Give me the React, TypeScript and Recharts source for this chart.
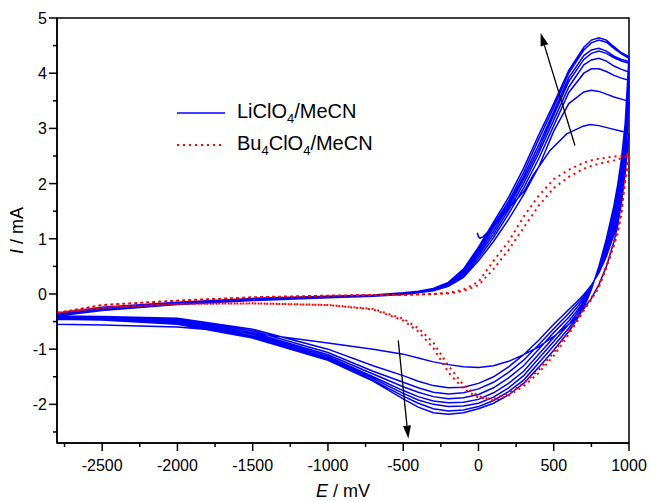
import React from 'react';
import {
  LineChart,
  Line,
  XAxis,
  YAxis,
  ReferenceLine,
  ReferenceArea,
} from 'recharts';

// potential grids (mV) for the forward and reverse sweeps
const upE = [-2800, -2500, -2000, -1500, -1000, -700, -500, -400, -300, -200, -100, 0, 100, 200, 300, 400, 500, 600, 700, 750, 800, 850, 900, 950, 1000];
const downE = [1000, 975, 950, 925, 900, 850, 800, 750, 700, 650, 600, 500, 400, 300, 200, 100, 0, -100, -200, -300, -400, -500, -700, -1000, -1500, -2000, -2500, -2800];

// LiClO4 first scan starts at 0 mV (the little hook)
const liFirstE = [-8, 0, 10, 32, 100, 200, 300, 362, 475, 586, 695, 741, 800, 873, 950, 1000];
const liFirstI = [1.11, 1.04, 1.01, 1.04, 1.22, 1.55, 1.85, 2.15, 2.6, 2.9, 3.04, 3.07, 3.05, 3.0, 2.95, 2.9];
const liFirstDown = [2.9, 2.2, 1.65, 1.25, 0.95, 0.5, 0.17, -0.08, -0.27, -0.42, -0.55, -0.77, -0.96, -1.1, -1.22, -1.3, -1.33, -1.32, -1.28, -1.23, -1.16, -1.09, -1.0, -0.89, -0.71, -0.6, -0.56, -0.55];

// LiClO4 cycles 2..8, forward sweeps (mA)
const liUp = [
  [-0.4, -0.3, -0.19, -0.12, -0.07, -0.04, -0.01, 0.02, 0.06, 0.14, 0.3, 0.6, 0.95, 1.35, 1.8, 2.3, 2.95, 3.45, 3.66, 3.69, 3.67, 3.62, 3.57, 3.53, 3.49],
  [-0.4, -0.29, -0.18, -0.11, -0.06, -0.03, 0, 0.03, 0.07, 0.16, 0.33, 0.65, 1.02, 1.45, 1.92, 2.45, 3.05, 3.65, 4.0, 4.08, 4.08, 4.03, 3.96, 3.91, 3.87],
  [-0.39, -0.28, -0.17, -0.1, -0.06, -0.03, 0, 0.03, 0.08, 0.17, 0.36, 0.7, 1.08, 1.52, 2.0, 2.55, 3.15, 3.75, 4.15, 4.24, 4.27, 4.22, 4.13, 4.07, 4.02],
  [-0.38, -0.27, -0.17, -0.1, -0.05, -0.02, 0.01, 0.04, 0.08, 0.18, 0.38, 0.74, 1.14, 1.58, 2.07, 2.62, 3.24, 3.85, 4.25, 4.36, 4.4, 4.36, 4.28, 4.22, 4.18],
  [-0.37, -0.26, -0.16, -0.09, -0.05, -0.02, 0.01, 0.04, 0.09, 0.19, 0.4, 0.78, 1.2, 1.63, 2.13, 2.7, 3.3, 3.92, 4.32, 4.42, 4.45, 4.4, 4.31, 4.25, 4.21],
  [-0.36, -0.25, -0.15, -0.09, -0.05, -0.02, 0.01, 0.04, 0.09, 0.2, 0.43, 0.82, 1.25, 1.68, 2.2, 2.8, 3.38, 4.0, 4.42, 4.55, 4.6, 4.56, 4.45, 4.35, 4.27],
  [-0.35, -0.24, -0.15, -0.08, -0.04, -0.02, 0.02, 0.05, 0.1, 0.21, 0.45, 0.85, 1.3, 1.75, 2.28, 2.88, 3.45, 4.05, 4.47, 4.6, 4.64, 4.6, 4.48, 4.37, 4.3],
];

// LiClO4 cycles 2..8, reverse sweeps (mA)
const liDown = [
  [3.49, 2.3, 1.72, 1.35, 1.08, 0.68, 0.38, 0.16, -0.01, -0.15, -0.28, -0.55, -0.84, -1.1, -1.32, -1.5, -1.62, -1.69, -1.7, -1.66, -1.58, -1.48, -1.3, -1.0, -0.64, -0.44, -0.41, -0.4],
  [3.87, 2.43, 1.84, 1.45, 1.17, 0.73, 0.4, 0.15, -0.05, -0.2, -0.35, -0.63, -0.92, -1.2, -1.42, -1.6, -1.72, -1.79, -1.81, -1.78, -1.7, -1.6, -1.4, -1.06, -0.67, -0.45, -0.42, -0.41],
  [4.02, 2.6, 1.97, 1.56, 1.26, 0.79, 0.42, 0.14, -0.09, -0.26, -0.42, -0.7, -1.0, -1.3, -1.52, -1.7, -1.82, -1.88, -1.9, -1.86, -1.78, -1.68, -1.45, -1.1, -0.7, -0.47, -0.43, -0.42],
  [4.18, 2.75, 2.1, 1.67, 1.35, 0.85, 0.44, 0.12, -0.13, -0.32, -0.49, -0.79, -1.09, -1.4, -1.62, -1.79, -1.91, -1.96, -1.97, -1.94, -1.86, -1.75, -1.5, -1.13, -0.73, -0.49, -0.44, -0.43],
  [4.21, 2.88, 2.22, 1.77, 1.43, 0.9, 0.46, 0.11, -0.17, -0.37, -0.55, -0.86, -1.17, -1.48, -1.7, -1.87, -1.98, -2.03, -2.04, -2.0, -1.92, -1.8, -1.53, -1.16, -0.76, -0.51, -0.45, -0.44],
  [4.27, 3.0, 2.34, 1.88, 1.52, 0.95, 0.48, 0.1, -0.21, -0.43, -0.62, -0.94, -1.25, -1.56, -1.77, -1.93, -2.04, -2.1, -2.12, -2.08, -1.98, -1.85, -1.56, -1.18, -0.78, -0.53, -0.46, -0.45],
  [4.3, 3.1, 2.45, 1.98, 1.6, 1.0, 0.5, 0.08, -0.25, -0.48, -0.68, -1.02, -1.33, -1.62, -1.83, -1.98, -2.08, -2.15, -2.18, -2.15, -2.05, -1.9, -1.58, -1.2, -0.8, -0.55, -0.47, -0.46],
];

// Bu4ClO4 (two cycles)
const buUp = [
  [-0.35, -0.2, -0.12, -0.06, -0.03, -0.02, -0.02, -0.01, 0.0, 0.02, 0.08, 0.22, 0.6, 0.95, 1.4, 1.78, 2.08, 2.25, 2.38, 2.42, 2.45, 2.47, 2.49, 2.5, 2.55],
  [-0.34, -0.2, -0.12, -0.06, -0.03, -0.02, -0.02, -0.01, 0.0, 0.01, 0.05, 0.16, 0.45, 0.8, 1.2, 1.6, 1.92, 2.12, 2.27, 2.32, 2.36, 2.39, 2.42, 2.46, 2.5],
];
const buDown = [
  [2.55, 2.1, 1.45, 1.1, 0.88, 0.48, 0.12, -0.1, -0.3, -0.52, -0.73, -1.12, -1.43, -1.67, -1.84, -1.93, -1.85, -1.65, -1.3, -0.88, -0.62, -0.45, -0.27, -0.2, -0.17, -0.18, -0.25, -0.34],
  [2.5, 2.05, 1.5, 1.15, 0.92, 0.52, 0.15, -0.07, -0.27, -0.48, -0.68, -1.06, -1.38, -1.62, -1.8, -1.9, -1.88, -1.72, -1.42, -0.98, -0.68, -0.48, -0.28, -0.2, -0.17, -0.18, -0.25, -0.34],
];

// arrows showing growth with cycle number
const arrowUp = [{ E: 641, I: 2.69 }, { E: 413, I: 4.73 }];
const arrowDown = [{ E: -533, I: -0.84 }, { E: -466, I: -2.62 }];

const xTicks = [-2750, -2500, -2250, -2000, -1750, -1500, -1250, -1000, -750, -500, -250, 0, 250, 500, 750, 1000];
const yTicks = [-2.5, -2, -1.5, -1, -0.5, 0, 0.5, 1, 1.5, 2, 2.5, 3, 3.5, 4, 4.5, 5];

const FONT = '"Liberation Sans", Arial, sans-serif';

const pts = (es: number[], is: number[]) => es.map((E, k) => ({ E, I: is[k] }));

const liTrace = [
  ...pts(liFirstE, liFirstI),
  ...pts(downE, liFirstDown),
  ...liUp.flatMap((u, k) => [...pts(upE, u), ...pts(downE, liDown[k])]),
];
const buTrace = buUp.flatMap((u, k) => [...pts(upE, u), ...pts(downE, buDown[k])]);

const XTick = (props: any) => {
  const { x, y, payload } = props;
  const major = payload.value % 500 === 0;
  return (
    <g>
      <line x1={x} x2={x} y1={y} y2={y + (major ? 8 : 4)} stroke="#000" strokeWidth={1.5} />
      {major && (
        <text x={x} y={y + 28} textAnchor="middle" fontSize={16} fontFamily={FONT} fill="#000">
          {payload.value}
        </text>
      )}
    </g>
  );
};

const YTick = (props: any) => {
  const { x, y, payload } = props;
  const major = Number.isInteger(payload.value);
  return (
    <g>
      <line x1={x} x2={x - (major ? 8 : 4)} y1={y} y2={y} stroke="#000" strokeWidth={1.5} />
      {major && (
        <text x={x - 10} y={y + 6} textAnchor="end" fontSize={16} fontFamily={FONT} fill="#000">
          {payload.value}
        </text>
      )}
    </g>
  );
};

const Arrow = (props: any) => {
  const { x1, y1, x2, y2 } = props;
  const a = Math.atan2(y2 - y1, x2 - x1);
  const len = 13;
  const w = 4;
  const bx = x2 - len * Math.cos(a);
  const by = y2 - len * Math.sin(a);
  const px = -Math.sin(a) * w;
  const py = Math.cos(a) * w;
  return (
    <g>
      <line x1={x1} y1={y1} x2={bx} y2={by} stroke="#000" strokeWidth={1.3} />
      <polygon points={`${x2},${y2} ${bx + px},${by + py} ${bx - px},${by - py}`} fill="#000" />
    </g>
  );
};

function Legend() {
  const row = (dash: string | undefined, color: string, label: React.ReactNode) => (
    <div style={{ display: 'flex', alignItems: 'center', height: 32 }}>
      <svg width={60} height={10} style={{ display: 'block' }}>
        <line x1={0} x2={48} y1={5} y2={5} stroke={color} strokeWidth={dash ? 2 : 1.5} strokeDasharray={dash} />
      </svg>
      <span style={{ fontSize: 20, fontFamily: FONT, color: '#000' }}>{label}</span>
    </div>
  );
  return (
    <div style={{ position: 'absolute', left: 177, top: 97 }}>
      {row(undefined, '#0000ff', <>LiClO<sub style={{ fontSize: 13 }}>4</sub>/MeCN</>)}
      {row('2 4', '#ff0000', <>Bu<sub style={{ fontSize: 13 }}>4</sub>ClO<sub style={{ fontSize: 13 }}>4</sub>/MeCN</>)}
    </div>
  );
}

export default function App() {
  return (
    <div style={{ position: 'absolute', left: 0, top: 0, width: 649, height: 501, background: '#fff' }}>
      <LineChart width={649} height={501} margin={{ top: 18, right: 20, bottom: 0, left: 12 }}>
        <XAxis
          dataKey="E"
          type="number"
          domain={[-2800, 1000]}
          ticks={xTicks}
          interval={0}
          tickSize={0}
          tickMargin={0}
          tickLine={false}
          tick={<XTick />}
          height={58}
          axisLine={{ stroke: '#000', strokeWidth: 1.5 }}
          label={{
            content: ({ viewBox }: any) => (
              <text x={viewBox.x + viewBox.width / 2} y={viewBox.y + 54} textAnchor="middle" fontSize={18} fontFamily={FONT} fill="#000">
                <tspan fontStyle="italic">E</tspan> / mV
              </text>
            ),
          }}
        />
        <YAxis
          dataKey="I"
          type="number"
          domain={[-2.7, 5]}
          ticks={yTicks}
          interval={0}
          tickSize={0}
          tickMargin={0}
          tickLine={false}
          tick={<YTick />}
          width={45}
          axisLine={{ stroke: '#000', strokeWidth: 1.5 }}
          label={{
            content: ({ viewBox }: any) => {
              const cx = 23;
              const cy = viewBox.y + viewBox.height / 2;
              return (
                <text x={cx} y={cy} transform={`rotate(-90 ${cx} ${cy})`} textAnchor="middle" fontSize={18} fontFamily={FONT} fill="#000">
                  <tspan fontStyle="italic">I</tspan> / mA
                </text>
              );
            },
          }}
        />
        <ReferenceArea x1={-2800} x2={1000} y1={-2.7} y2={5} fill="none" stroke="#000" strokeWidth={1.5} />
        <Line
          data={liTrace}
          dataKey="I"
          type="linear"
          stroke="#0000ff"
          strokeWidth={1.5}
          dot={false}
          activeDot={false}
          isAnimationActive={false}
        />
        <Line
          data={buTrace}
          dataKey="I"
          type="linear"
          stroke="#ff0000"
          strokeWidth={2}
          strokeDasharray="2 4"
          dot={false}
          activeDot={false}
          isAnimationActive={false}
        />
        <ReferenceLine segment={[{ x: arrowUp[0].E, y: arrowUp[0].I }, { x: arrowUp[1].E, y: arrowUp[1].I }]} shape={<Arrow />} ifOverflow="visible" />
        <ReferenceLine segment={[{ x: arrowDown[0].E, y: arrowDown[0].I }, { x: arrowDown[1].E, y: arrowDown[1].I }]} shape={<Arrow />} ifOverflow="visible" />
      </LineChart>
      <Legend />
    </div>
  );
}
